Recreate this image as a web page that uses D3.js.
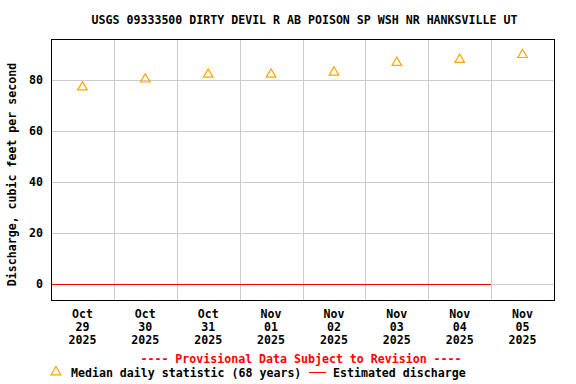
<!DOCTYPE html>
<html>
<head>
<meta charset="utf-8">
<script src="https://cdn.jsdelivr.net/npm/d3@7"></script>
<style>
  body { margin: 0; background: #fff; }
  svg { display: block; }
  text { font-family: "DejaVu Sans Mono", "Liberation Mono", monospace; font-weight: bold; font-size: 11.6px; }
</style>
</head>
<body>
<div id="chart"></div>
<script>
// median daily statistic, one per day (plotted at noon)
var medianDays = ["2025-10-29", "2025-10-30", "2025-10-31", "2025-11-01", "2025-11-02", "2025-11-03", "2025-11-04", "2025-11-05"];
var medianValues = [77.4, 80.5, 82.4, 82.4, 83.2, 87.0, 88.2, 90.1];

// estimated discharge
var dischargeTimes = ["2025-10-29T00:00", "2025-11-05T00:00"];
var dischargeValues = [0, 0];

var yTicks = [0, 20, 40, 60, 80];
var title = "USGS 09333500 DIRTY DEVIL R AB POISON SP WSH NR HANKSVILLE UT";

var width = 576, height = 384;
var plotLeft = 51, plotRight = 554, plotTop = 39, plotBottom = 300;

var parseDay = d3.timeParse("%Y-%m-%d"),
    parseTime = d3.timeParse("%Y-%m-%dT%H:%M");

var x = d3.scaleTime()
    .domain([parseDay("2025-10-29"), parseDay("2025-11-06")])
    .range([plotLeft, plotRight]);

var y = d3.scaleLinear()
    .domain([-6.27, 96.08])
    .range([plotBottom, plotTop]);

var svg = d3.select("#chart")
    .append("svg")
    .attr("width", width)
    .attr("height", height)
    .attr("shape-rendering", "crispEdges");

svg.append("text")
    .attr("x", (plotLeft + plotRight) / 2 + 2)
    .attr("y", 20)
    .attr("text-anchor", "middle")
    .attr("dominant-baseline", "middle")
    .text(title);

// grid
var gridDays = d3.timeDay.range(parseDay("2025-10-30"), parseDay("2025-11-06"));
svg.selectAll(".vgrid")
    .data(gridDays)
    .enter()
    .append("line")
    .attr("x1", function(d) { return Math.round(x(d)) + 0.5; })
    .attr("x2", function(d) { return Math.round(x(d)) + 0.5; })
    .attr("y1", plotTop)
    .attr("y2", plotBottom)
    .attr("stroke", "#cccccc");

svg.selectAll(".hgrid")
    .data(yTicks)
    .enter()
    .append("line")
    .attr("x1", plotLeft)
    .attr("x2", plotRight)
    .attr("y1", function(d) { return Math.round(y(d)) + 0.5; })
    .attr("y2", function(d) { return Math.round(y(d)) + 0.5; })
    .attr("stroke", "#cccccc");

// y tick labels
svg.selectAll(".ylab")
    .data(yTicks)
    .enter()
    .append("text")
    .attr("x", 43)
    .attr("y", function(d) { return y(d); })
    .attr("text-anchor", "end")
    .attr("dominant-baseline", "middle")
    .text(function(d) { return d; });

svg.append("text")
    .attr("transform", "translate(12," + ((plotTop + plotBottom) / 2 + 5) + ") rotate(-90)")
    .attr("text-anchor", "middle")
    .attr("dominant-baseline", "middle")
    .text("Discharge, cubic feet per second");

// x labels at noon
var fmtMon = d3.timeFormat("%b"), fmtDay = d3.timeFormat("%d"), fmtYear = d3.timeFormat("%Y");
var labelDays = medianDays.map(parseDay);
var xl = svg.selectAll(".xlab")
    .data(labelDays)
    .enter()
    .append("text")
    .attr("text-anchor", "middle")
    .attr("transform", function(d) { return "translate(" + x(d3.timeHour.offset(d, 12)) + ",0)"; });
xl.append("tspan").attr("x", 0).attr("y", 314).attr("dominant-baseline", "middle").text(fmtMon);
xl.append("tspan").attr("x", 0).attr("y", 327).attr("dominant-baseline", "middle").text(fmtDay);
xl.append("tspan").attr("x", 0).attr("y", 340).attr("dominant-baseline", "middle").text(fmtYear);

// discharge line
var line = d3.line()
    .x(function(d) { return x(d[0]); })
    .y(function(d) { return Math.round(y(d[1])) + 0.5; });
svg.append("path")
    .datum(dischargeTimes.map(function(t, i) { return [parseTime(t), dischargeValues[i]]; }))
    .attr("d", line)
    .attr("fill", "none")
    .attr("stroke", "#ff0000");

// median triangles
var tri = d3.symbol().type(d3.symbolTriangle).size(40);
svg.selectAll(".med")
    .data(medianDays)
    .enter()
    .append("path")
    .attr("d", tri)
    .attr("shape-rendering", "auto")
    .attr("transform", function(d, i) {
        return "translate(" + x(d3.timeHour.offset(parseDay(d), 12)) + "," + (y(medianValues[i]) + 0.5) + ")";
    })
    .attr("fill", "none")
    .attr("stroke", "#ffa500")
    .attr("stroke-width", 1.2);

// frame
svg.append("rect")
    .attr("x", plotLeft + 0.5)
    .attr("y", plotTop + 0.5)
    .attr("width", plotRight - plotLeft)
    .attr("height", plotBottom - plotTop)
    .attr("fill", "none")
    .attr("stroke", "#000")
    .attr("stroke-width", 1.5);

// legend
svg.append("text")
    .attr("x", 301)
    .attr("y", 359)
    .attr("text-anchor", "middle")
    .attr("dominant-baseline", "middle")
    .attr("fill", "#ff0000")
    .text("---- Provisional Data Subject to Revision ----");

svg.append("path")
    .attr("d", tri)
    .attr("shape-rendering", "auto")
    .attr("transform", "translate(56,372)")
    .attr("fill", "none")
    .attr("stroke", "#ffa500")
    .attr("stroke-width", 1.2);
svg.append("text")
    .attr("x", 71)
    .attr("y", 373)
    .attr("dominant-baseline", "middle")
    .text("Median daily statistic (68 years)");
svg.append("line")
    .attr("x1", 309).attr("x2", 326)
    .attr("y1", 372.5).attr("y2", 372.5)
    .attr("stroke", "#ff0000");
svg.append("text")
    .attr("x", 333)
    .attr("y", 373)
    .attr("dominant-baseline", "middle")
    .text("Estimated discharge");
</script>
</body>
</html>
